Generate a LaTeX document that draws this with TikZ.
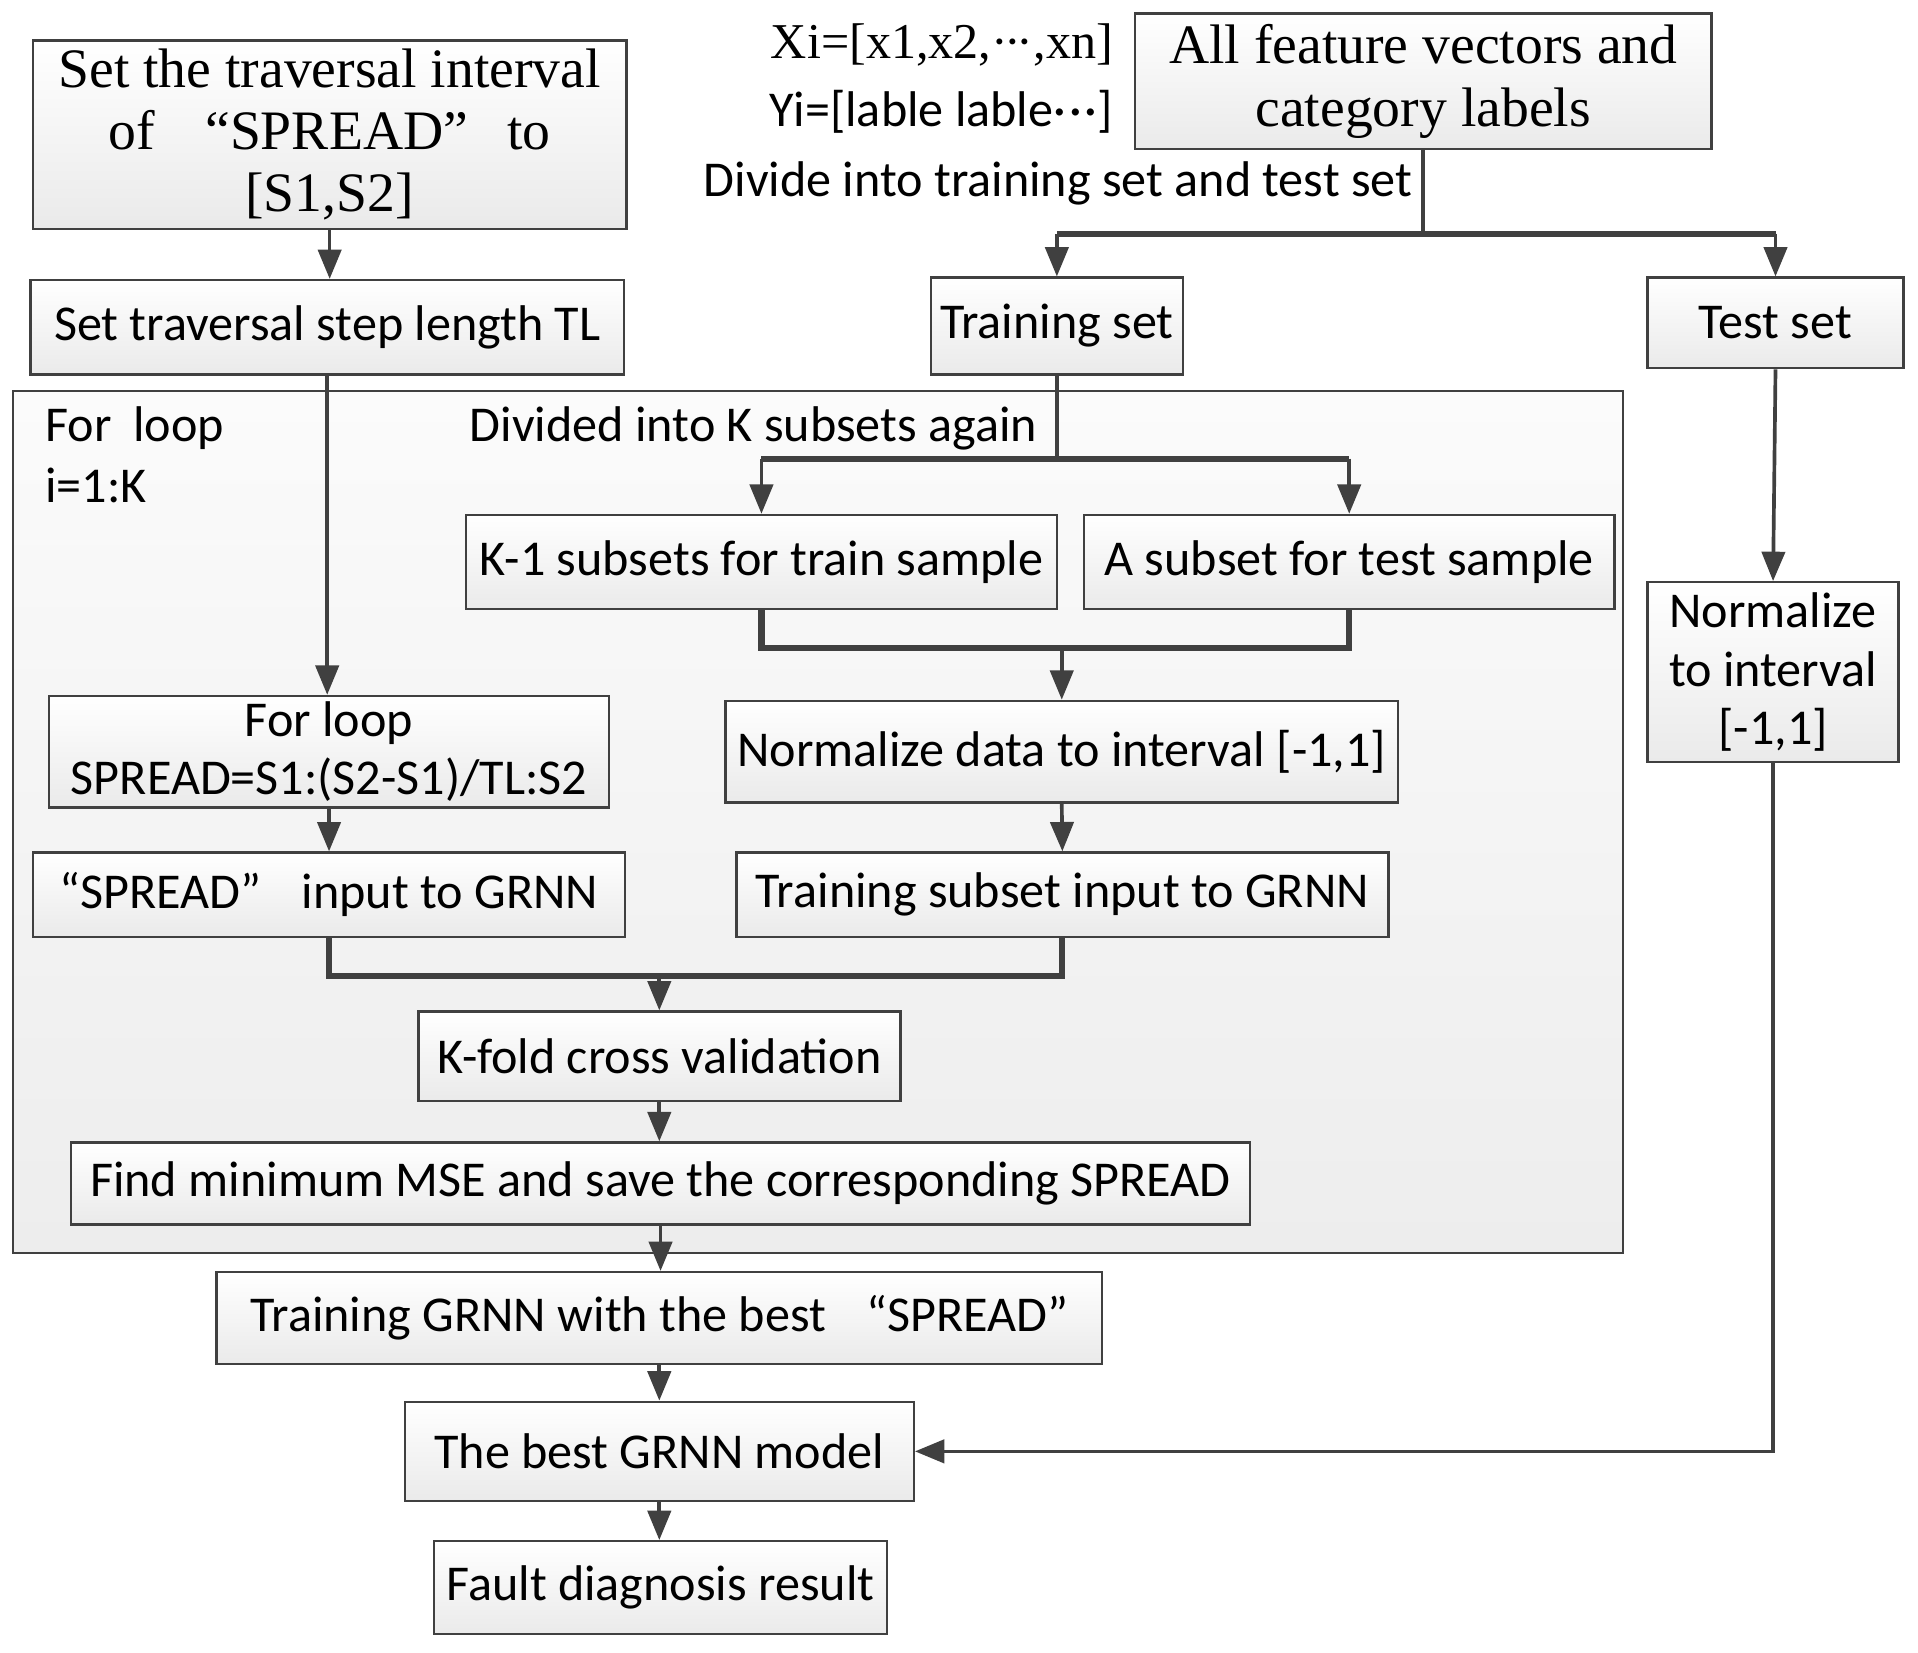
\documentclass[tikz,border=0pt]{standalone}
\usepackage{fontspec}
\setmainfont{Carlito}
\newfontfamily\serifA{Liberation Serif}
\usetikzlibrary{arrows.meta,calc}
\definecolor{edge}{HTML}{404040}
\definecolor{boxbot}{HTML}{EAEAEA}
\definecolor{looptop}{HTML}{FBFBFB}
\definecolor{loopbot}{HTML}{EDEDED}
\newcommand{\tdots}{·\kern-0.08em·\kern-0.08em·}
\newcommand{\sdots}{·\kern0.06em·\kern0.06em·}
\begin{document}
\begin{tikzpicture}[x=1pt,y=-1pt,
  fbox/.style={draw=edge, line width=2pt, top color=white, bottom color=boxbot,
    inner sep=0pt, align=center, font=\fontsize{41}{48}\selectfont},
  sbox/.style={fbox, font=\serifA\fontsize{45.5}{51}\selectfont},
  loopbox/.style={draw=edge, line width=1.6pt, top color=looptop, bottom color=loopbot, inner sep=0pt},
  lbl/.style={inner sep=0pt, font=\fontsize{41}{48}\selectfont},
  arr/.style={draw=edge, line width=3pt, -{Triangle[length=24pt,width=19pt]}},
  ln/.style={draw=edge, line width=3pt},
  bar/.style={draw=edge, line width=5pt},
]
\useasboundingbox (0,0) rectangle (1568,1351);
\fill[white] (0,0) rectangle (1568,1351);

% loop container
\node[loopbox, minimum width=1316pt, minimum height=704pt] (loop) at (669,672) {};
\node[lbl, anchor=west] (forloop) at (37,350) {For\hspace{0.2em} loop};
\node[lbl, anchor=west] (iK) at (37,397) {i=1:K};
\node[lbl] (divK) at (616,350) {Divided into K subsets again};

% top
\node[sbox, minimum width=485pt, minimum height=154pt] (A) at (269.5,110)
  {Set the traversal interval\\ of\hspace{0.9em}“SPREAD”\hspace{0.7em}to\\{}[S1,S2]};
\node[fbox, minimum width=485pt, minimum height=77pt] (B) at (267.5,267.5) {Set traversal step length TL};
\node[sbox, minimum width=471pt, minimum height=111pt] (C) at (1163.5,66.5)
  {All feature vectors and\\ category labels};
\node[inner sep=0pt, anchor=east, font=\serifA\fontsize{41}{48}\selectfont] (Xi) at (910,37) {Xi=[x1,x2,\tdots,xn]};
\node[lbl, anchor=east] (Yi) at (910,91) {Yi=[lable lable\sdots]};
\node[lbl] (divTT) at (865,150) {Divide into training set and test set};

\node[fbox, minimum width=206pt, minimum height=79pt] (Train) at (864,266.5) {Training set};
\node[fbox, minimum width=209pt, minimum height=74pt] (Test) at (1451.5,264) {Test set};

% inside loop
\node[fbox, minimum width=483pt, minimum height=77pt] (K1) at (622.5,459.5) {K-1 subsets for train sample};
\node[fbox, minimum width=434pt, minimum height=77pt] (Asub) at (1103,459.5) {A subset for test sample};
\node[fbox, minimum width=550pt, minimum height=83pt] (NormD) at (868,614.5) {Normalize data to interval [-1,1]};
\node[fbox, minimum width=533pt, minimum height=69pt] (TrSub) at (868.5,731.5) {Training subset input to GRNN};
\node[fbox, minimum width=458pt, minimum height=91pt] (ForL) at (269,614.5) {For loop\\ SPREAD=S1:(S2-S1)/TL:S2};
\node[fbox, minimum width=484pt, minimum height=69pt] (SpIn) at (269,731.5) {“SPREAD”\hspace{0.8em}input to GRNN};
\node[fbox, minimum width=394pt, minimum height=73pt] (Kfold) at (539,863.5) {K-fold cross validation};
\node[fbox, minimum width=964pt, minimum height=67pt] (FindMin) at (540,967.5) {Find minimum MSE and save the corresponding SPREAD};

% below loop
\node[fbox, minimum width=724pt, minimum height=75pt] (TrG) at (539,1077.5) {Training GRNN with the best\hspace{0.8em}“SPREAD”};
\node[fbox, minimum width=416pt, minimum height=81pt] (Best) at (539,1186.5) {The best GRNN model};
\node[fbox, minimum width=370pt, minimum height=76pt] (Fault) at (540,1298) {Fault diagnosis result};

% right column
\node[fbox, minimum width=205pt, minimum height=147pt] (NormT) at (1449.5,549.5) {Normalize\\ to interval\\{}[-1,1]};

% connector coordinates
\coordinate (s1) at (1163.5,191);
\coordinate (s2) at (864,375);
\coordinate (s3) at (868,530);
\coordinate (s4) at (539,798);

% connectors
\draw[arr] (A.south) -- (A.south |- B.north);
\draw[arr] (B.south) -- (B.south |- ForL.north);

\draw[ln] (C.south) -- (s1);
\draw[bar] (Train.north |- s1) -- (Test.north |- s1);
\draw[arr] (Train.north |- s1) -- (Train.north);
\draw[arr] (Test.north |- s1) -- (Test.north);

\draw[ln] (Train.south) -- (s2);
\draw[bar] (K1.north |- s2) -- (Asub.north |- s2);
\draw[arr] (K1.north |- s2) -- (K1.north);
\draw[arr] (Asub.north |- s2) -- (Asub.north);

\draw[bar] (K1.south) -- (K1.south |- s3) -- (Asub.south |- s3) -- (Asub.south);
\draw[arr] (s3) -- (NormD.north);
\draw[arr] (NormD.south) -- (TrSub.north);

\draw[arr] (ForL.south) -- (SpIn.north);
\draw[bar] (SpIn.south) -- (SpIn.south |- s4) -- (TrSub.south |- s4) -- (TrSub.south);
\draw[arr] (s4) -- (Kfold.north);
\draw[arr] (Kfold.south) -- (Kfold.south |- FindMin.north);
\draw[arr] (FindMin.south) -- (FindMin.south |- TrG.north);
\draw[arr] (TrG.south) -- (Best.north);
\draw[arr] (Best.south) -- (Best.south |- Fault.north);

\draw[arr] (Test.south) -- (NormT.north);
\draw[arr] (NormT.south) |- (Best.east);
\end{tikzpicture}
\end{document}
